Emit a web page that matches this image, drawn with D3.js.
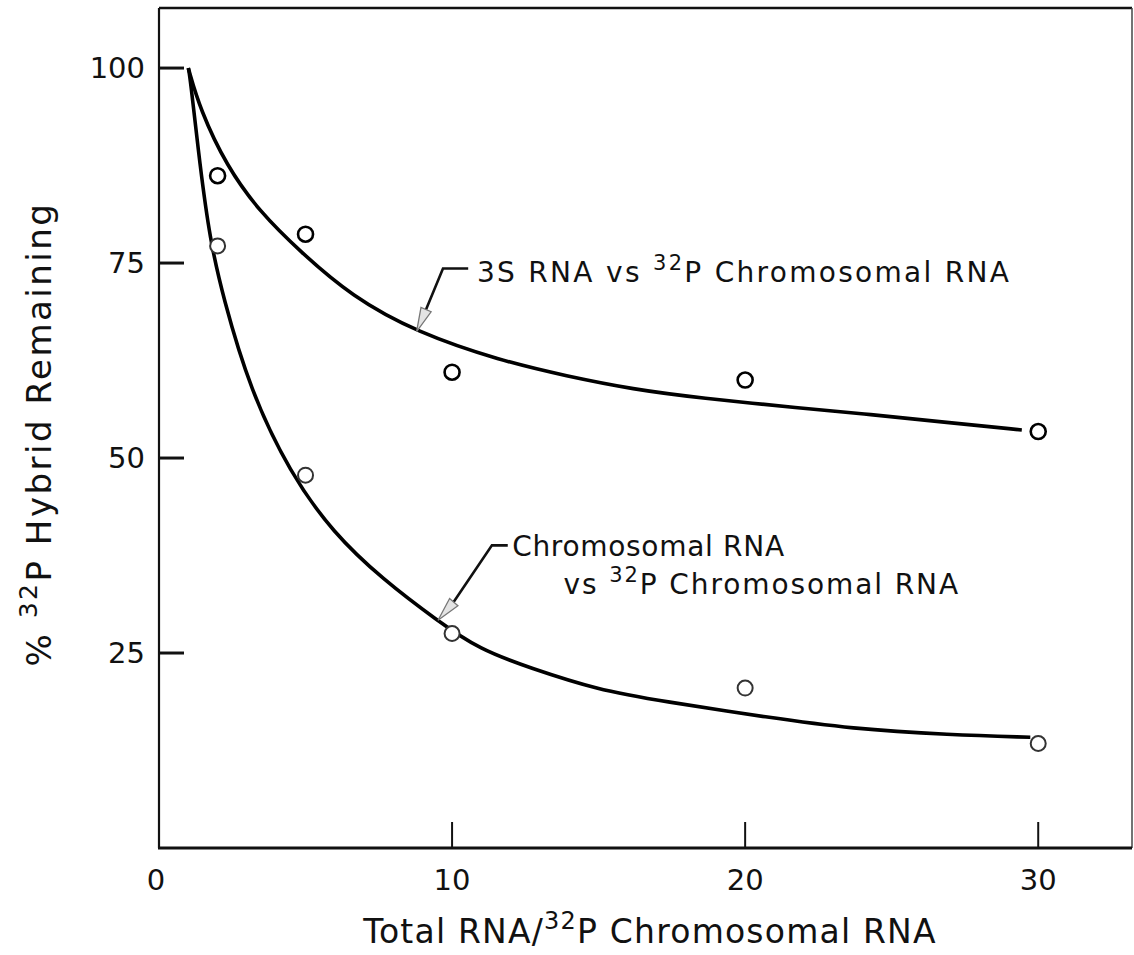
<!DOCTYPE html>
<html>
<head>
<meta charset="utf-8">
<script src="https://cdn.jsdelivr.net/npm/d3@7"></script>
<style>
  html,body{margin:0;padding:0;background:#fff;}
  svg{display:block;}
  text{font-family:"DejaVu Sans",sans-serif;fill:#111;}
</style>
</head>
<body>
<svg id="chart" width="1134" height="955"></svg>
<script>
// measured points
var doses=[2,5,10,20,30],
 upperPts=[86.2,78.7,61.0,60.0,53.4],
 lowerPts=[77.2,47.8,27.5,20.5,13.4];

// hand-drawn fitted curves
var upperCurveX=[1,1.4,2.31,3.45,4.81,6.58,8.8,11.64,13.91,16.18,18.46,21.88,24.27,26.76,29.44],
 upperCurveY=[100,94.7,87.4,81.5,76.5,70.7,66.1,62.5,60.5,58.8,57.7,56.4,55.6,54.6,53.6];
var lowerCurveX=[1,1.06,1.4,1.74,2.18,3.11,4.47,5.94,7.65,9.48,10.96,12.66,14.94,17.2,20.85,23.58,27.0,29.73],
 lowerCurveY=[100,98.9,87.4,78.0,70.7,58.7,48.1,40.4,34.4,29.2,25.4,23.1,20.3,18.8,16.7,15.3,14.5,14.2];

var xTickVals=[10,20,30],
 xLabelVals=[0,10,20,30],
 yTickVals=[25,50,75,100];

var svg=d3.select("#chart");

var x=d3.scaleLinear().domain([0,33.2]).range([159,1132]),
 y=d3.scaleLinear().domain([0,107.7]).range([848,8]);

//frame
svg.append("line").attr("x1",x(0)).attr("x2",x(0)).attr("y1",y(0)).attr("y2",y(107.7))
  .attr("stroke","#111").attr("stroke-width",2.2);
svg.append("line").attr("x1",x(0)).attr("x2",x(33.2)).attr("y1",y(107.7)).attr("y2",y(107.7))
  .attr("stroke","#111").attr("stroke-width",2.5);
svg.append("line").attr("x1",x(33.2)).attr("x2",x(33.2)).attr("y1",y(0)).attr("y2",y(107.7))
  .attr("stroke","#444").attr("stroke-width",1.5);
svg.append("line").attr("x1",x(0)-1).attr("x2",x(33.2)).attr("y1",y(0)).attr("y2",y(0))
  .attr("stroke","#111").attr("stroke-width",3.2);

//ticks
svg.selectAll(".xt").data(xTickVals).enter().append("line")
  .attr("x1",function(d){return x(d);}).attr("x2",function(d){return x(d);})
  .attr("y1",y(0)).attr("y2",y(0)-26)
  .attr("stroke","#111").attr("stroke-width",2);
svg.selectAll(".yt").data(yTickVals).enter().append("line")
  .attr("x1",x(0)).attr("x2",x(0)+25)
  .attr("y1",function(d){return y(d);}).attr("y2",function(d){return y(d);})
  .attr("stroke","#111").attr("stroke-width",3);

svg.selectAll(".xl").data(xLabelVals).enter().append("text")
  .attr("x",function(d){return d==0?x(d)-3:x(d);})
  .attr("y",y(0)+42)
  .attr("text-anchor","middle")
  .attr("font-size",29)
  .text(function(d){return d;});
svg.selectAll(".yl").data(yTickVals).enter().append("text")
  .attr("x",x(0)-14)
  .attr("y",function(d){return y(d)+10;})
  .attr("text-anchor","end")
  .attr("font-size",29)
  .text(function(d){return d;});

//text with a raised "32"
function supText(sel,parts,fs){
  var rise=Math.round(fs*0.42), back=0;
  parts.forEach(function(p){
    var ts=sel.append("tspan").text(p.t);
    if(p.sup){
      ts.attr("font-size",Math.round(fs*0.74)).attr("dy",-rise);
      back=rise;
    }else if(back){
      ts.attr("dy",back);
      back=0;
    }
  });
}
var xt=svg.append("text").attr("x",650).attr("y",943).attr("text-anchor","middle")
  .attr("font-size",33).attr("letter-spacing",1.2);
supText(xt,[{t:"Total RNA/"},{t:"32",sup:true},{t:"P Chromosomal RNA"}],33);

var yt=svg.append("text").attr("transform","translate(51,434) rotate(-90)")
  .attr("text-anchor","middle").attr("font-size",34).attr("letter-spacing",2.5);
supText(yt,[{t:"% "},{t:"32",sup:true},{t:"P Hybrid Remaining"}],34);

//curves
var line=d3.line()
  .x(function(d){return x(d[0]);})
  .y(function(d){return y(d[1]);})
  .curve(d3.curveBasis);
svg.append("path").datum(d3.zip(upperCurveX,upperCurveY))
  .attr("d",line).attr("fill","none").attr("stroke","#000").attr("stroke-width",3.6);
svg.append("path").datum(d3.zip(lowerCurveX,lowerCurveY))
  .attr("d",line).attr("fill","none").attr("stroke","#000").attr("stroke-width",3.6);

//points
svg.selectAll(".up").data(d3.zip(doses,upperPts)).enter().append("circle")
  .attr("cx",function(d){return x(d[0]);}).attr("cy",function(d){return y(d[1]);})
  .attr("r",7.5).attr("fill","#fff").attr("stroke","#000").attr("stroke-width",2.6);
svg.selectAll(".lp").data(d3.zip(doses,lowerPts)).enter().append("circle")
  .attr("cx",function(d){return x(d[0]);}).attr("cy",function(d){return y(d[1]);})
  .attr("r",7.5).attr("fill","#fff").attr("stroke","#333").attr("stroke-width",2);

//annotations (data units)
var notes=[
  {tip:[8.79,66.2],path:[[10.55,74.3],[9.69,74.3],[9.08,68.75]],
   lines:[{at:[10.85,72.6],ls:2.3,parts:[{t:"3S RNA vs "},{t:"32",sup:true},{t:"P Chromosomal RNA"}]}]},
  {tip:[9.52,29.2],path:[[11.9,38.8],[11.36,38.8],[10.03,31.4]],
   lines:[{at:[12.05,37.5],ls:0.7,parts:[{t:"Chromosomal RNA"}]},
          {at:[13.8,32.6],ls:1.9,parts:[{t:"vs "},{t:"32",sup:true},{t:"P  Chromosomal RNA"}]}]}
];
notes.forEach(function(n){
  var pts=n.path.map(function(p){return [x(p[0]),y(p[1])];});
  svg.append("path").attr("d",d3.line()(pts)).attr("fill","none")
    .attr("stroke","#111").attr("stroke-width",2.6);
  var last=pts[pts.length-1], tp=[x(n.tip[0]),y(n.tip[1])];
  var dx=last[0]-tp[0], dy=last[1]-tp[1], L=Math.sqrt(dx*dx+dy*dy);
  var ux=dx/L, uy=dy/L, bx=tp[0]+ux*24, by=tp[1]+uy*24;
  svg.append("polygon")
    .attr("points",[tp,[bx-uy*5.5,by+ux*5.5],[bx+uy*5.5,by-ux*5.5]].map(function(p){return p.join(",");}).join(" "))
    .attr("fill","#e4e4e4").attr("stroke","#777").attr("stroke-width",1.3);
  n.lines.forEach(function(l){
    var t=svg.append("text").attr("x",x(l.at[0])).attr("y",y(l.at[1]))
      .attr("font-size",28).attr("letter-spacing",l.ls);
    supText(t,l.parts,28);
  });
});
</script>
</body>
</html>
